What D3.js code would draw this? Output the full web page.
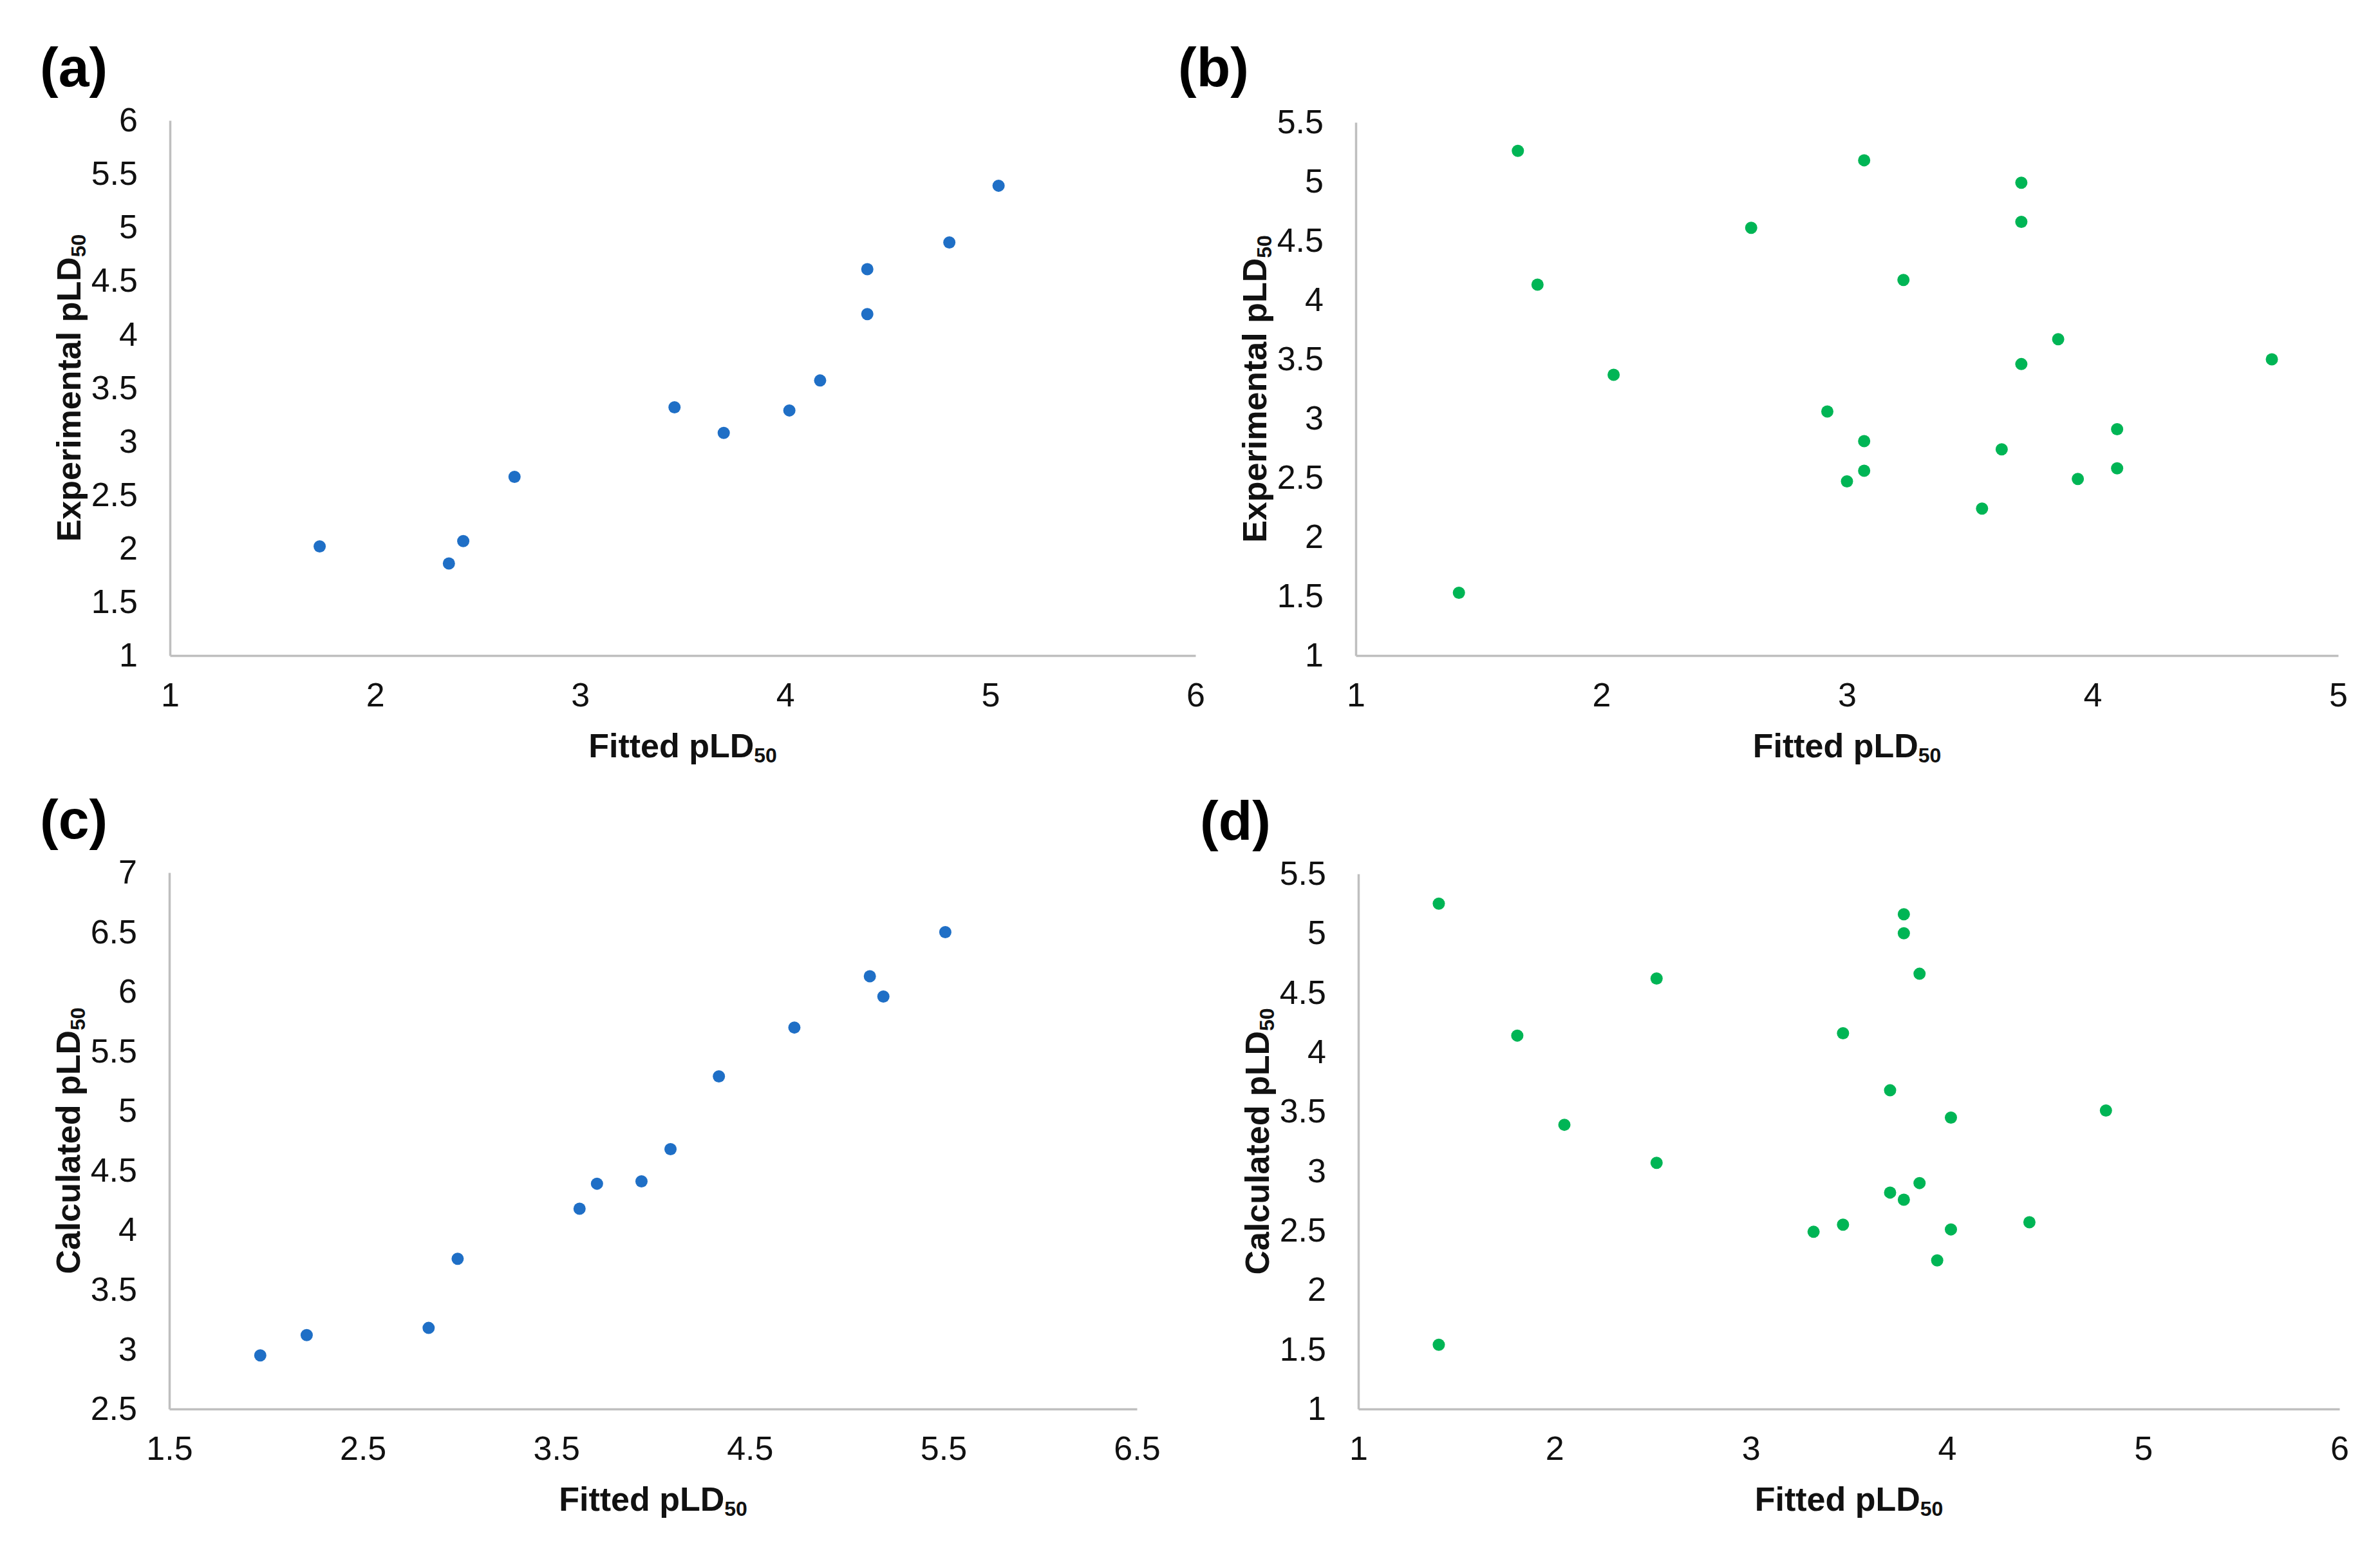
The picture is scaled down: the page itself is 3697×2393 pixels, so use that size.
<!DOCTYPE html>
<html>
<head>
<meta charset="utf-8">
<script src="https://cdn.jsdelivr.net/npm/d3@7"></script>
<style>
  body { margin: 0; background: #fff; }
  svg { display: block; }
</style>
</head>
<body>
<div id="chart"></div>
<script>
// (a) fitted vs experimental, training set
const aFitted = [1.73, 2.36, 2.43, 2.68, 3.46, 3.70, 4.02, 4.17, 4.40, 4.40, 4.80, 5.04];
const aExperimental = [2.02, 1.86, 2.07, 2.67, 3.32, 3.08, 3.29, 3.57, 4.19, 4.61, 4.86, 5.39];

// (b) fitted vs experimental
const bFitted = [1.66, 1.74, 1.42, 2.05, 2.61, 3.07, 3.23, 2.92, 3.07, 3.07, 3.00,
                 3.71, 3.71, 3.71, 3.86, 3.63, 3.55, 3.94, 4.10, 4.10, 4.73];
const bExperimental = [5.26, 4.13, 1.53, 3.37, 4.61, 5.18, 4.17, 3.06, 2.81, 2.56, 2.47,
                       4.99, 4.66, 3.46, 3.67, 2.74, 2.24, 2.49, 2.91, 2.58, 3.50];

// (c) fitted vs calculated
const cFitted = [1.97, 2.21, 2.84, 2.99, 3.62, 3.71, 3.94, 4.09, 4.34, 4.73, 5.12, 5.19, 5.51];
const cCalculated = [2.95, 3.12, 3.18, 3.76, 4.18, 4.39, 4.41, 4.68, 5.29, 5.70, 6.13, 5.96, 6.50];

// (d) fitted vs calculated
const dFitted = [1.41, 3.78, 3.78, 3.86, 2.52, 1.81, 3.47, 3.71, 4.02, 4.81, 2.05,
                 2.52, 3.86, 3.71, 3.78, 3.47, 3.32, 4.02, 4.42, 3.95, 1.41];
const dCalculated = [5.25, 5.16, 5.00, 4.66, 4.62, 4.14, 4.16, 3.68, 3.45, 3.51, 3.39,
                     3.07, 2.90, 2.82, 2.76, 2.55, 2.49, 2.51, 2.57, 2.25, 1.54];

// tick values
const ticksA_x = [1, 2, 3, 4, 5, 6];
const ticksA_y = [1, 1.5, 2, 2.5, 3, 3.5, 4, 4.5, 5, 5.5, 6];
const ticksB_x = [1, 2, 3, 4, 5];
const ticksB_y = [1, 1.5, 2, 2.5, 3, 3.5, 4, 4.5, 5, 5.5];
const ticksC_x = [1.5, 2.5, 3.5, 4.5, 5.5, 6.5];
const ticksC_y = [2.5, 3, 3.5, 4, 4.5, 5, 5.5, 6, 6.5, 7];
const ticksD_x = [1, 2, 3, 4, 5, 6];
const ticksD_y = [1, 1.5, 2, 2.5, 3, 3.5, 4, 4.5, 5, 5.5];

const width = 3697, height = 2393;
const BLUE = "#1f6fc6", GREEN = "#00b555";
const FONT = "'Liberation Sans', Arial, Helvetica, sans-serif";

const panels = [
  { tag: "(a)", xs: aFitted, ys: aExperimental, xTicks: ticksA_x, yTicks: ticksA_y,
    xTitle: "Fitted pLD", yTitle: "Experimental pLD", color: BLUE,
    left: 264, right: 1857, top: 187, bottom: 1018, labelX: 62, labelY: 134 },
  { tag: "(b)", xs: bFitted, ys: bExperimental, xTicks: ticksB_x, yTicks: ticksB_y,
    xTitle: "Fitted pLD", yTitle: "Experimental pLD", color: GREEN,
    left: 2106, right: 3632, top: 190, bottom: 1018, labelX: 1830, labelY: 134 },
  { tag: "(c)", xs: cFitted, ys: cCalculated, xTicks: ticksC_x, yTicks: ticksC_y,
    xTitle: "Fitted pLD", yTitle: "Calculated pLD", color: BLUE,
    left: 263, right: 1766, top: 1355, bottom: 2188, labelX: 62, labelY: 1302 },
  { tag: "(d)", xs: dFitted, ys: dCalculated, xTicks: ticksD_x, yTicks: ticksD_y,
    xTitle: "Fitted pLD", yTitle: "Calculated pLD", color: GREEN,
    left: 2110, right: 3634, top: 1357, bottom: 2188, labelX: 1864, labelY: 1304 }
];

const svg = d3.select("#chart").append("svg")
  .attr("width", width)
  .attr("height", height)
  .style("background", "#fff");

function styleAxis(g) {
  g.select(".domain").attr("stroke", "#bfbfbf").attr("stroke-width", 3.5);
  g.selectAll(".tick line").remove();
  g.selectAll(".tick text")
    .attr("fill", "#111")
    .style("font-family", FONT)
    .style("font-size", "52px");
}

function addTitle(sel, main) {
  sel.append("tspan").text(main);
  sel.append("tspan").attr("font-size", 32).attr("dy", 8).text("50");
}

function drawPanel(p) {
  const x = d3.scaleLinear().domain(d3.extent(p.xTicks)).range([p.left, p.right]);
  const y = d3.scaleLinear().domain(d3.extent(p.yTicks)).range([p.bottom, p.top]);
  const fmt = d3.format("");

  svg.append("g")
    .attr("transform", `translate(0,${p.bottom})`)
    .call(d3.axisBottom(x).tickValues(p.xTicks).tickFormat(fmt)
      .tickSize(0).tickSizeOuter(0).tickPadding(42))
    .call(styleAxis);

  svg.append("g")
    .attr("transform", `translate(${p.left},0)`)
    .call(d3.axisLeft(y).tickValues(p.yTicks).tickFormat(fmt)
      .tickSize(0).tickSizeOuter(0).tickPadding(50))
    .call(styleAxis);

  // points
  svg.append("g")
    .selectAll("circle")
    .data(p.xs.map((v, i) => [v, p.ys[i]]))
    .join("circle")
    .attr("cx", d => x(d[0]))
    .attr("cy", d => y(d[1]))
    .attr("r", 9.5)
    .attr("fill", p.color);

  // axis titles
  const xt = svg.append("text")
    .attr("x", (p.left + p.right) / 2)
    .attr("y", p.bottom + 158)
    .attr("text-anchor", "middle")
    .style("font-family", FONT)
    .style("font-weight", "bold")
    .style("font-size", "52px")
    .attr("fill", "#111");
  addTitle(xt, p.xTitle);

  const yt = svg.append("text")
    .attr("transform", `translate(${p.left - 139},${(p.top + p.bottom) / 2}) rotate(-90)`)
    .attr("text-anchor", "middle")
    .style("font-family", FONT)
    .style("font-weight", "bold")
    .style("font-size", "52px")
    .attr("fill", "#111");
  addTitle(yt, p.yTitle);

  // panel letter
  svg.append("text")
    .attr("x", p.labelX)
    .attr("y", p.labelY)
    .style("font-family", FONT)
    .style("font-weight", "bold")
    .style("font-size", "86px")
    .attr("fill", "#000")
    .text(p.tag);
}

panels.forEach(drawPanel);
</script>
</body>
</html>
